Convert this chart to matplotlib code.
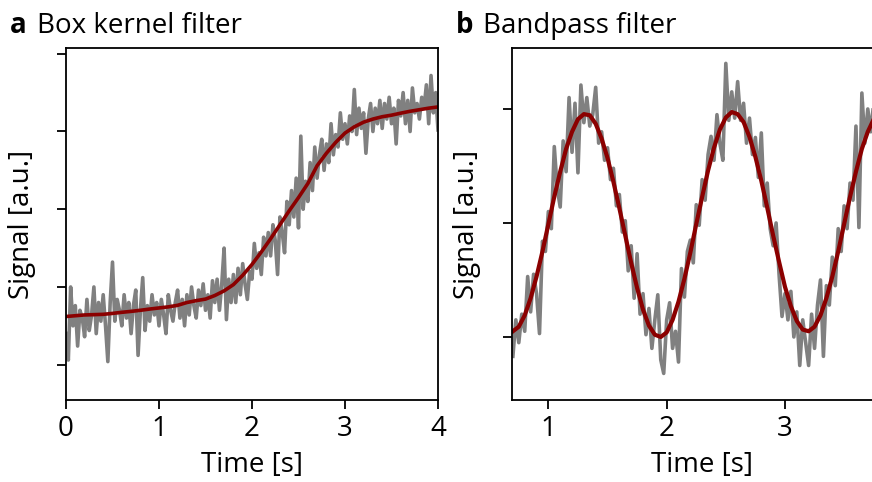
import numpy as np
import matplotlib
matplotlib.use("Agg")
import matplotlib.pyplot as plt

plt.rcParams['font.family'] = ['Open Sans', 'DejaVu Sans']

# ---------------- data: panel a (box kernel filter) ----------------
t_raw_a = np.round(np.arange(0, 161) * 0.025, 3)
raw_a = [
    -0.30, -0.47, 0.00, -0.25, -0.12, -0.38, -0.15, -0.20,
    -0.32, -0.08, -0.28, -0.18, 0.00, -0.30, -0.10, -0.22,
    -0.05, -0.25, -0.48, -0.10, 0.16, -0.22, -0.08, -0.15,
    -0.25, -0.05, -0.20, -0.10, -0.30, -0.12, -0.02, -0.44,
    -0.15, 0.06, -0.28, -0.12, -0.22, -0.05, -0.18, -0.10,
    -0.25, -0.08, -0.18, -0.30, -0.05, -0.15, -0.22, -0.10,
    -0.02, -0.20, -0.08, -0.25, -0.05, -0.18, 0.00, -0.12,
    -0.20, -0.02, -0.12, 0.02, -0.15, -0.05, -0.20, 0.04,
    -0.10, 0.05, -0.15, 0.02, 0.25, -0.21, 0.05, -0.10,
    0.08, -0.10, 0.12, -0.05, 0.15, 0.02, -0.08, 0.10,
    0.05, 0.28, 0.12, 0.22, 0.08, 0.32, 0.20, 0.35,
    0.20, 0.40, 0.30, 0.08, 0.45, 0.35, 0.22, 0.55,
    0.40, 0.62, 0.45, 0.70, 0.38, 0.97, 0.50, 0.68,
    0.55, 0.80, 0.62, 0.90, 0.70, 0.85, 0.95, 0.75,
    0.92, 0.80, 1.05, 0.85, 0.98, 0.90, 1.12, 0.95,
    1.05, 0.92, 1.10, 1.00, 1.27, 0.98, 1.15, 1.02,
    1.12, 0.86, 1.08, 1.18, 1.00, 1.15, 1.05, 1.20,
    1.02, 1.18, 1.08, 1.22, 1.05, 1.15, 0.92, 1.20,
    1.10, 1.25, 1.05, 1.20, 1.00, 1.28, 1.12, 1.18,
    1.08, 1.22, 1.15, 1.30, 1.05, 1.36, 1.12, 1.25,
    1.01,
]
t_filt_a = np.round(np.arange(0, 41) * 0.1, 2)
filt_a = [
    -0.19, -0.185, -0.18, -0.178, -0.176, -0.17, -0.163, -0.157, -0.15, -0.142,
    -0.135, -0.128, -0.118, -0.10, -0.088, -0.078, -0.055, -0.025, 0.015, 0.075,
    0.145, 0.225, 0.31, 0.40, 0.49, 0.575, 0.665, 0.78, 0.86, 0.93,
    0.99, 1.03, 1.06, 1.08, 1.095, 1.105, 1.118, 1.13, 1.14, 1.15,
    1.158,
]

# ---------------- data: panel b (bandpass filter) ----------------
t_raw_b = np.round(0.70 + np.arange(0, 123) * 0.025, 3)
raw_b = [
    -1.17, -0.85, -1.05, -0.80, -0.95, -0.47, -0.78, -0.45, -0.62, -0.97,
    -0.16, -0.25, 0.10, -0.05, 0.67, 0.30, 0.14, 0.72, 0.45, 1.10,
    0.62, 1.05, 0.44, 1.21, 0.88, 1.10, 0.85, 0.95, 1.19, 0.70,
    0.80, 0.55, 0.66, 0.38, 0.48, 0.15, 0.25, -0.08, 0.02, -0.42,
    -0.20, -0.66, -0.27, -0.80, -0.62, -0.98, -0.75, -1.10, -0.85, -0.63,
    -1.20, -1.32, -0.85, -0.70, -1.10, -0.95, -1.22, -0.40, -0.65, -0.25,
    -0.15, -0.35, 0.16, -0.02, 0.38, 0.20, 0.60, 0.76, 0.55, 0.95,
    0.70, 0.55, 1.40, 0.90, 1.15, 0.92, 1.24, 0.90, 1.05, 0.70,
    0.92, 0.60, 0.75, 0.40, 0.79, 0.15, 0.35, -0.05, -0.20, 0.00,
    -0.45, -0.82, -0.62, -0.85, -0.60, -1.00, -0.78, -1.25, -0.85, -1.05,
    -1.25, -0.80, -1.10, -0.72, -0.50, -1.17, -0.55, -0.72, -0.30, -0.55,
    -0.05, -0.25, 0.15, -0.05, 0.35, 0.20, 0.85, -0.04, 1.14, 0.70,
    1.00, 0.80, 1.05,
]
t_filt_b = np.round(0.70 + np.arange(0, 62) * 0.05, 3)
filt_b = [
    -0.95, -0.91, -0.81, -0.66, -0.47, -0.25, -0.01, 0.23, 0.45, 0.65, 0.80, 0.91, 0.955,
    0.945, 0.87, 0.74, 0.57, 0.36, 0.13, -0.11, -0.35, -0.57, -0.76, -0.90, -0.98,
    -1.0, -0.96, -0.85, -0.69, -0.49, -0.26, -0.01, 0.23, 0.46, 0.66, 0.82, 0.925, 0.973,
    0.955, 0.885, 0.755, 0.58, 0.37, 0.135, -0.11, -0.34, -0.56, -0.73, -0.86, -0.935,
    -0.95, -0.91, -0.81, -0.66, -0.47, -0.25, -0.01, 0.23, 0.45, 0.65, 0.80, 0.91,
]

xticks_a = [0, 1, 2, 3, 4]
yticks_a = [-0.5, 0, 0.5, 1.0, 1.5]
xticks_b = [1, 2, 3]
yticks_b = [-1, 0, 1]

GRAY = '#808080'
RED = '#8b0000'
FS = 20

fig = plt.figure(figsize=(8.72, 4.82), dpi=100)
W, H = 872.0, 482.0

def fx(p):
    return p / W

def fy(p):
    return 1 - p / H

ax1 = fig.add_axes([fx(66), fy(400), fx(438) - fx(66), fy(48) - fy(400)])
ax2 = fig.add_axes([fx(511.7), fy(400), fx(380), fy(48) - fy(400)])

ax1.plot(t_raw_a, raw_a, color=GRAY, lw=2.6, solid_joinstyle='round')
ax1.plot(t_filt_a, filt_a, color=RED, lw=2.6)
ax1.set_xlim(0, 4)
ax1.set_ylim(-0.727, 1.537)
ax1.set_xticks(xticks_a)
ax1.set_yticks(yticks_a)
ax1.set_yticklabels([])

ax2.plot(t_raw_b, raw_b, color=GRAY, lw=2.6, solid_joinstyle='round')
ax2.plot(t_filt_b, filt_b, color=RED, lw=3.0)
ax2.set_xlim(0.69, 0.69 + 380 / 118.3)
ax2.set_ylim(-1.553, 1.535)
ax2.set_xticks(xticks_b)
ax2.set_yticks(yticks_b)
ax2.set_yticklabels([])

for ax in (ax1, ax2):
    for s in ax.spines.values():
        s.set_linewidth(1.3)
    ax.tick_params(direction='out', length=6.5, width=1.3, labelsize=FS, pad=4)
    ax.set_xlabel('Time [s]', fontsize=FS)
    ax.set_ylabel('Signal [a.u.]', fontsize=FS)
    ax.xaxis.set_label_coords(0.5, -0.145)

ax1.yaxis.set_label_coords(-(66 - 36) / 372, 0.5)
ax2.yaxis.set_label_coords(-(511.7 - 481) / 380, 0.5)

fig.text(fx(10), fy(33), 'a', fontsize=FS, fontweight='bold', va='baseline', ha='left')
fig.text(fx(36.7), fy(33), 'Box kernel filter', fontsize=FS, va='baseline', ha='left')
fig.text(fx(456), fy(33), 'b', fontsize=FS, fontweight='bold', va='baseline', ha='left')
fig.text(fx(483.3), fy(33), 'Bandpass filter', fontsize=FS, va='baseline', ha='left')

fig.savefig('out.png', dpi=100)
